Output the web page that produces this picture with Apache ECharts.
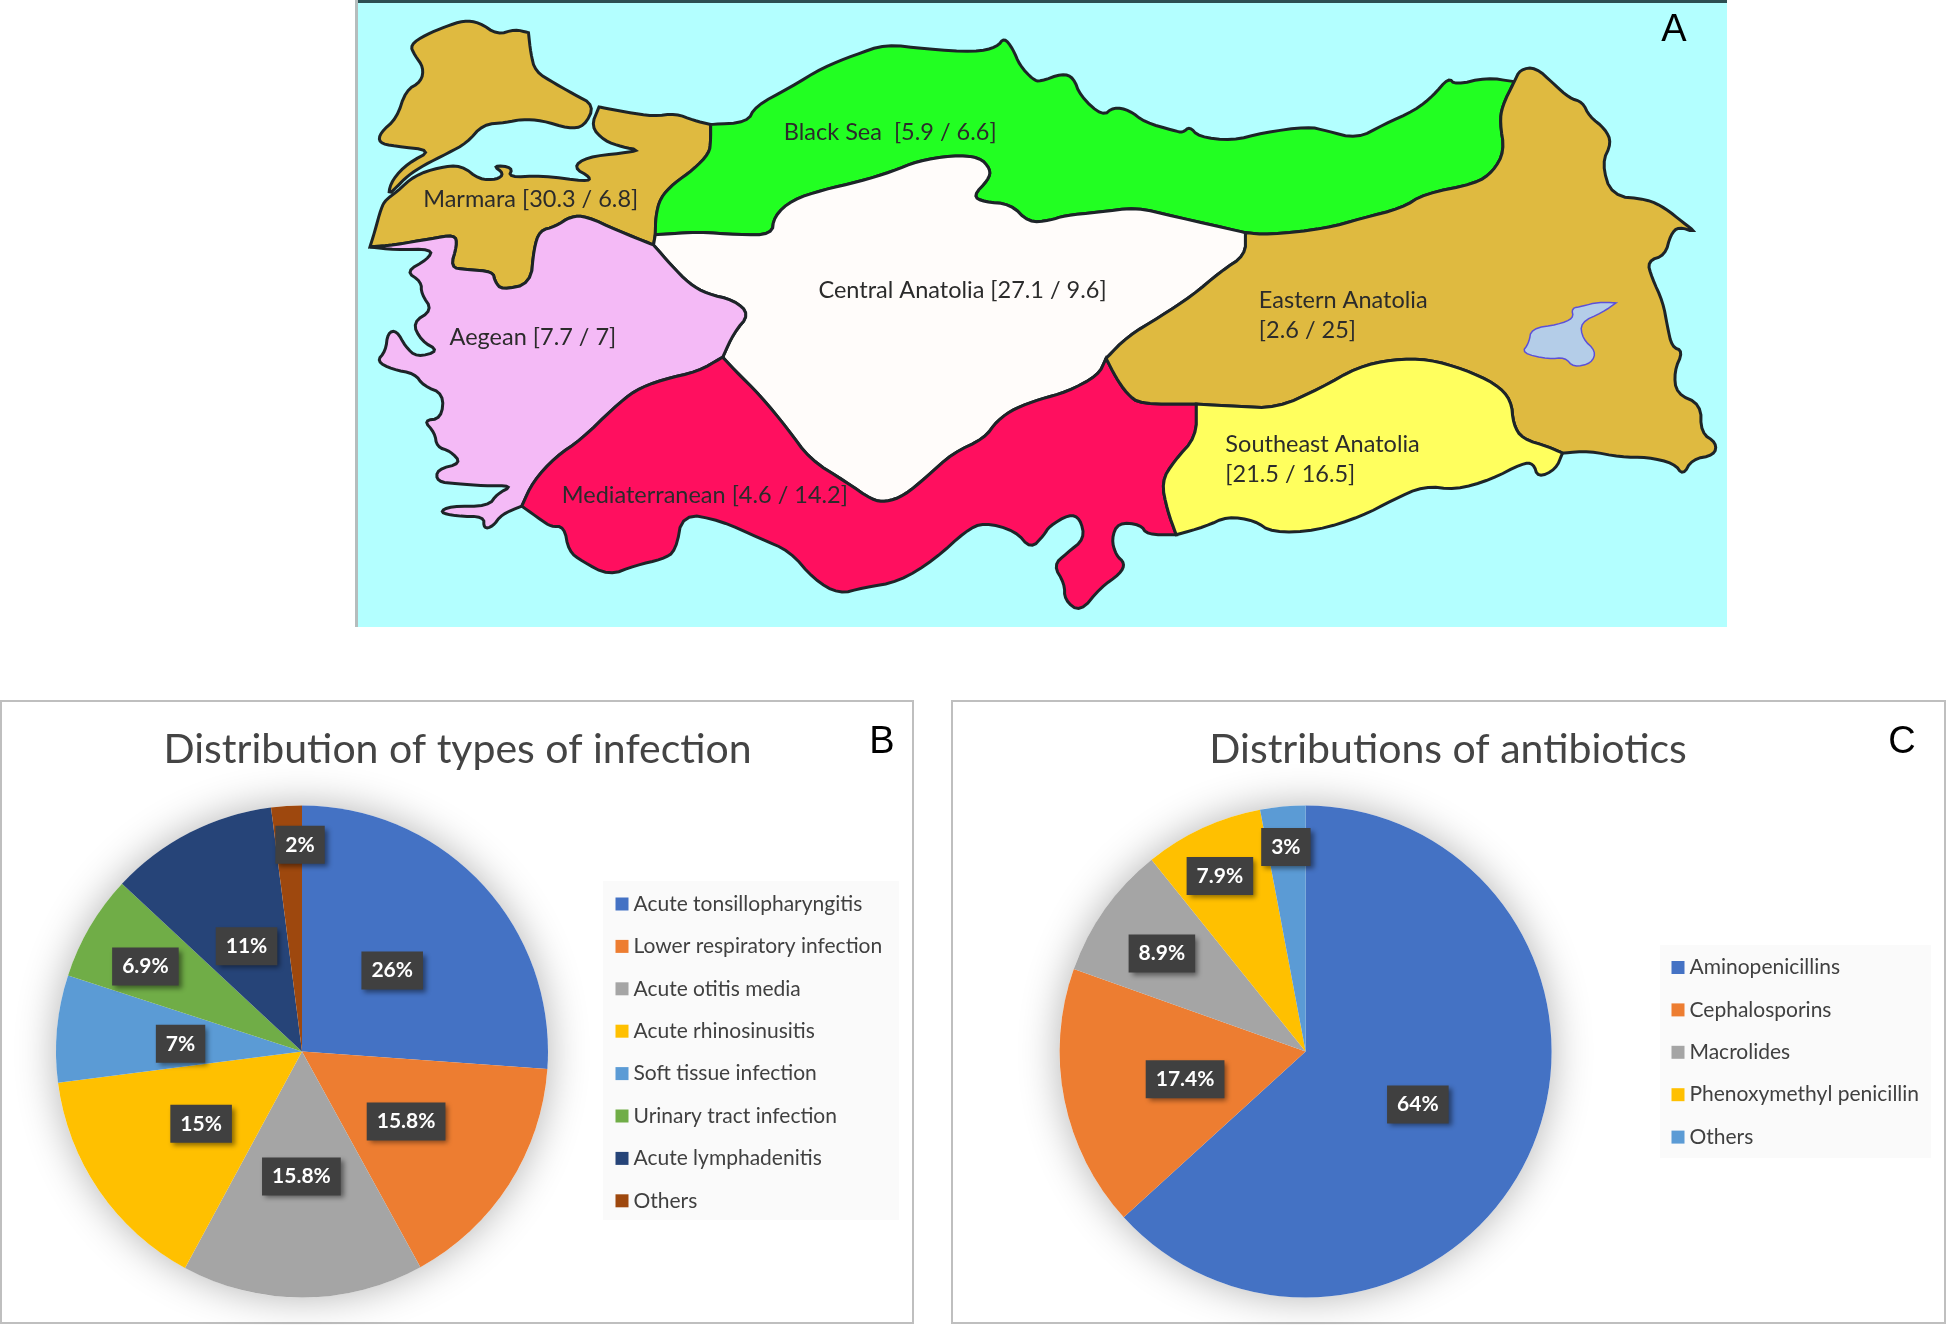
<!DOCTYPE html>
<html>
<head>
<meta charset="utf-8">
<title>Turkey infections and antibiotics</title>
<script src="https://cdn.jsdelivr.net/npm/echarts@6/dist/echarts.min.js"></script>
<style>
  html, body { margin: 0; padding: 0; background: #fff; }
  #chart { width: 1946px; height: 1325px; }
</style>
</head>
<body>
<div id="chart"></div>
<script>
  // panel A: region name, [first rate / second rate]
  var regionNames = ['Marmara', 'Black Sea', 'Central Anatolia', 'Aegean', 'Mediaterranean', 'Eastern Anatolia', 'Southeast Anatolia']
  var regionFirst = ['30.3', '5.9', '27.1', '7.7', '4.6', '2.6', '21.5']
  var regionSecond = ['6.8', '6.6', '9.6', '7', '14.2', '25', '16.5']

  // panel B
  var infectionTypes = ['Acute tonsillopharyngitis', 'Lower respiratory infection', 'Acute otitis media', 'Acute rhinosinusitis', 'Soft tissue infection', 'Urinary tract infection', 'Acute lymphadenitis', 'Others']
  var infectionShares = [26, 15.8, 15.8, 15, 7, 6.9, 11, 2]

  // panel C
  var antibioticTypes = ['Aminopenicillins', 'Cephalosporins', 'Macrolides', 'Phenoxymethyl penicillin', 'Others']
  var antibioticShares = [64, 17.4, 8.9, 7.9, 3]

  var pieColorsB = ['#4472c4', '#ed7d31', '#a5a5a5', '#ffc000', '#5b9bd5', '#70ad47', '#264478', '#9e480e']
  var pieColorsC = ['#4472c4', '#ed7d31', '#a5a5a5', '#ffc000', '#5b9bd5']
  var regionColors = ['#dfba40', '#22ff22', '#fffcfa', '#f4baf6', '#ff0f5f', '#dfba40', '#ffff5e']

  // label nudges per slice, away from the default mid-radius spot
  var labelNudgeB = [[-2, 5], [-2, 2], [-1, -1], [3, 1], [4, 4], [-48, -21], [2, 7], [6, -81]]
  var labelNudgeC = [[-3, 2], [3, 3], [-41, -25], [-33, -61], [-8, -79]]

  // map outlines. West part and east part were traced separately
  var eastShift = 1545.6
  function east(pts) {
    return pts.map(function (p) { return [p[0] + eastShift, p[1]] })
  }
  function rev(pts) {
    return pts.slice().reverse()
  }
  // cut the corners of a traced line, ends stay put so neighbours still meet
  function round(pts) {
    for (var pass = 0; pass < 2; pass++) {
      var out = [pts[0]]
      for (var i = 0; i < pts.length - 1; i++) {
        var a = pts[i], b = pts[i + 1]
        out.push([a[0] * 0.75 + b[0] * 0.25, a[1] * 0.75 + b[1] * 0.25])
        out.push([a[0] * 0.25 + b[0] * 0.75, a[1] * 0.25 + b[1] * 0.75])
      }
      out.push(pts[pts.length - 1])
      pts = out
    }
    return pts
  }

  var marmaraAegean = round([[45,605],[100,600],[180,585],[235,575],[240,600],[225,655],[260,660],[320,665],[325,690],[340,710],[405,695],[412,610],[425,565],[460,555],[495,530],[530,530],[600,565],[680,600]])
  var marmaraBlack = round([[808,305],[808,345],[805,375],[770,415],[725,450],[695,485],[685,530],[684,575]])
  var marmaraCentral = [[684,575],[680,600]]
  var aegeanCentral = round([[680,600],[720,650],[760,695],[800,720],[860,735],[895,770],[860,815],[835,875]])
  var aegeanMed = round([[835,875],[780,910],[700,930],[640,955],[590,1000],[520,1075],[460,1120],[410,1180],[385,1240]])
  var centralBlack = round([[684,575],[780,568],[870,575],[945,575],[950,530],[990,490],[1060,465],[1140,445],[1215,420],[1270,395],[1350,380],[1410,385],[1435,415],[1430,440],[1395,480],[1420,495],[1480,500],[1520,545],[1568,540]].concat(east([[55,528],[130,520],[215,508],[300,530],[460,570]])))
  var blackEastern = round(east([[1062,200],[1035,260],[1030,300],[1040,370],[1015,420],[975,450],[860,475],[810,510],[720,535],[640,560],[510,575],[460,570]]))
  var centralEastern = round(east([[460,570],[460,625],[405,665],[340,725],[270,775],[195,825],[148,878]]))
  var centralMed = round(east([[148,878],[130,920],[60,960],[0,978]]).concat([[1490,1000],[1450,1030],[1420,1075],[1350,1110],[1290,1170],[1240,1215],[1200,1230],[1170,1225],[1110,1180],[1030,1125],[980,1050],[920,970],[860,905],[835,875]]))
  var easternMed = round(east([[148,878],[170,925],[195,965],[225,990],[350,990]]))
  var easternSoutheast = round(east([[350,990],[440,995],[530,1000],[630,950],[710,900],[790,880],[870,880],[950,905],[1020,940],[1055,980],[1060,1040],[1080,1075],[1140,1095],[1170,1110]]))
  var medSoutheast = round(east([[350,990],[350,1070],[300,1130],[272,1180],[285,1250],[305,1310]]))

  var thrace = round([[400,80],[370,72],[330,85],[290,55],[255,50],[215,65],[170,85],[135,110],[145,135],[165,165],[160,200],[125,222],[105,290],[68,325],[65,350],[100,358],[185,368],[130,400],[95,440],[85,478],[105,458],[130,430],[165,405],[220,375],[262,350],[298,305],[350,300],[385,292],[430,295],[490,315],[525,310],[548,258],[500,230],[460,205],[415,175],[405,130],[400,80]])
  var marmaraNorthCoast = round([[558,262],[620,275],[680,285],[730,278],[770,295],[808,305]])
  var marmaraSeaCoast = round([[45,605],[55,570],[70,510],[80,490],[105,470],[145,430],[200,410],[250,405],[290,440],[330,440],[345,425],[320,405],[365,410],[355,435],[430,430],[530,445],[540,435],[500,410],[530,385],[610,375],[650,368],[610,360],[570,345],[540,310],[558,262]])
  var aegeanCoast = round([[385,1240],[340,1260],[320,1290],[300,1295],[300,1265],[240,1265],[200,1255],[225,1240],[310,1240],[330,1210],[365,1190],[300,1190],[240,1185],[195,1180],[195,1150],[250,1135],[225,1105],[195,1095],[190,1060],[165,1030],[205,1025],[210,965],[165,945],[145,915],[95,905],[60,885],[80,860],[85,815],[105,810],[125,850],[150,875],[200,860],[160,835],[140,790],[185,760],[160,720],[160,690],[125,665],[175,635],[185,610],[100,612],[45,605]])
  var blackCoast = round([[808,305],[890,300],[908,260],[985,215],[1060,165],[1130,135],[1200,108],[1290,120],[1400,128],[1450,115],[1465,92],[1485,120],[1500,160],[1530,195]].concat(east([[0,200],[50,180],[75,190],[90,235],[140,285],[165,262],[200,270],[235,300],[300,320],[320,325],[335,310],[355,335],[430,345],[500,325],[600,310],[640,320],[710,340],[770,305],[840,270],[880,235],[915,190],[930,208],[1000,190],[1062,200]])))
  var easternCoast = round(east([[1062,200],[1075,170],[1110,165],[1150,205],[1185,240],[1215,250],[1230,285],[1265,315],[1280,350],[1258,400],[1280,480],[1360,488],[1400,510],[1440,545],[1470,570],[1430,555],[1412,575],[1400,625],[1360,640],[1370,680],[1395,740],[1405,800],[1415,850],[1440,860],[1420,910],[1425,965],[1480,990],[1480,1060],[1515,1085],[1510,1115],[1460,1125],[1440,1165],[1420,1135],[1360,1120],[1300,1120],[1230,1105],[1170,1110]]))
  var southeastCoast = round(east([[1170,1110],[1155,1150],[1115,1170],[1105,1135],[1080,1135],[1010,1175],[930,1200],[860,1190],[790,1225],[720,1265],[620,1300],[520,1305],[480,1275],[420,1265],[370,1290],[305,1310]]))
  var medCoast = round(east([[305,1310],[240,1310],[225,1285],[175,1280],[160,1320],[170,1360],[190,1380],[180,1405],[135,1440],[90,1500],[55,1470],[55,1430],[30,1385],[60,1355],[100,1320],[90,1270],[65,1260],[20,1290]]).concat([[1555,1310],[1525,1345],[1490,1300],[1420,1280],[1380,1300],[1310,1370],[1230,1425],[1150,1440],[1095,1455],[1040,1420],[985,1350],[920,1320],[830,1275],[745,1258],[730,1350],[700,1370],[640,1385],[580,1410],[520,1375],[490,1350],[480,1290],[450,1290],[430,1275],[385,1240]]))
  var lakeVan = round(east([[1290,742],[1250,740],[1215,750],[1190,755],[1195,780],[1160,795],[1100,805],[1095,840],[1078,865],[1140,880],[1175,875],[1195,900],[1235,890],[1245,860],[1215,830],[1210,790],[1260,765],[1290,742]]))

  var regionRings = {
    'Marmara': [
      thrace,
      marmaraNorthCoast.concat(marmaraBlack, marmaraCentral, rev(marmaraAegean), marmaraSeaCoast)
    ],
    'Black Sea': [blackCoast.concat(blackEastern, rev(centralBlack), rev(marmaraBlack))],
    'Central Anatolia': [centralBlack.concat(centralEastern, centralMed, rev(aegeanCentral), rev(marmaraCentral))],
    'Aegean': [marmaraAegean.concat(aegeanCentral, aegeanMed, aegeanCoast)],
    'Mediaterranean': [rev(aegeanMed).concat(rev(centralMed), easternMed, medSoutheast, medCoast)],
    'Eastern Anatolia': [easternCoast.concat(rev(easternSoutheast), rev(easternMed), rev(centralEastern), rev(blackEastern))],
    'Southeast Anatolia': [easternSoutheast.concat(southeastCoast, rev(medSoutheast))],
    'Lake Van': [lakeVan]
  }
  var labelAnchors = {
    'Marmara': [405, 488],
    'Black Sea': [1210, 325],
    'Central Anatolia': [1372, 712],
    'Aegean': [410, 827],
    'Mediaterranean': [795, 1213],
    'Eastern Anatolia': [691.6 + eastShift, 772],
    'Southeast Anatolia': [616.6 + eastShift, 1125],
    'Lake Van': [1170 + eastShift, 830]
  }

  function buildGeo() {
    var features = []
    for (var name in regionRings) {
      features.push({
        type: 'Feature',
        properties: {name: name, cp: [labelAnchors[name][0], -labelAnchors[name][1]]},
        geometry: {
          type: 'MultiPolygon',
          coordinates: regionRings[name].map(function (ring) {
            return [ring.map(function (p) { return [p[0], -p[1]] })]
          })
        }
      })
    }
    return {type: 'FeatureCollection', features: features}
  }
  echarts.registerMap('turkey', buildGeo())

  function regionLabel(i) {
    var name = regionNames[i]
    var vals = '[' + regionFirst[i] + ' / ' + regionSecond[i] + ']'
    if (name === 'Black Sea') return name + '  ' + vals
    if (name === 'Eastern Anatolia' || name === 'Southeast Anatolia') {
      return '{left|' + name + '}\n{left|' + vals + '}'
    }
    return name + ' ' + vals
  }

  var mapData = regionNames.map(function (name, i) {
    return {
      name: name,
      value: parseFloat(regionFirst[i]),
      itemStyle: {areaColor: regionColors[i]},
      label: {show: true, formatter: regionLabel(i)}
    }
  })
  mapData.push({
    name: 'Lake Van',
    itemStyle: {areaColor: '#b4cde8', borderColor: '#5c50d8', borderWidth: 1.5},
    label: {show: false}
  })

  function pieData(names, values, colors) {
    return names.map(function (name, i) {
      return {name: name, value: values[i], itemStyle: {color: colors[i]}}
    })
  }

  function pieSeries(cx, data, nudge) {
    return {
      type: 'pie',
      center: [cx, 1051.5],
      radius: 246,
      startAngle: 90,
      data: data,
      avoidLabelOverlap: false,
      silent: true,
      z: 3,
      labelLine: {show: false},
      label: {
        show: true,
        position: 'inside',
        formatter: '{c}%',
        color: '#fff',
        fontFamily: 'Lato',
        fontWeight: 'bold',
        fontSize: 21,
        lineHeight: 24,
        backgroundColor: '#404040',
        padding: [7, 10],
        shadowColor: 'rgba(0,0,0,0.45)',
        shadowBlur: 5,
        shadowOffsetX: 3,
        shadowOffsetY: 3
      },
      labelLayout: function (params) {
        var n = nudge[params.dataIndex]
        return {dx: n[0], dy: n[1]}
      }
    }
  }

  // soft round shadow under each pie
  function pieShadow(cx) {
    return {
      type: 'pie',
      center: [cx, 1051.5],
      radius: 246,
      silent: true,
      z: 2,
      label: {show: false},
      labelLine: {show: false},
      data: [{value: 1, name: 'shadow', itemStyle: {color: '#fff', shadowBlur: 40, shadowColor: 'rgba(0,0,0,0.3)'}}]
    }
  }

  function legendOf(names, left, top, colors) {
    return {
      orient: 'vertical',
      left: left,
      top: top,
      padding: 0,
      icon: 'rect',
      itemWidth: 13,
      itemHeight: 13,
      itemGap: 18.4,
      selectedMode: false,
      textStyle: {fontFamily: 'Lato', fontSize: 21, lineHeight: 24, color: '#404040'},
      data: names.map(function (name, i) {
        return {name: name, itemStyle: {color: colors[i]}}
      })
    }
  }

  function panelTitle(text, x, y, size, family, color) {
    return {
      text: text,
      left: x,
      top: y,
      padding: 0,
      textAlign: 'center',
      textVerticalAlign: 'middle',
      textStyle: {fontFamily: family, fontSize: size, fontWeight: 'normal', color: color}
    }
  }

  var option = {
    animation: false,
    backgroundColor: '#fff',
    graphic: [
      {type: 'rect', shape: {x: 357, y: 0, width: 1370, height: 627}, style: {fill: '#b3ffff'}},
      {type: 'rect', shape: {x: 357, y: 0, width: 1370, height: 3}, style: {fill: '#2c4f52'}},
      {type: 'rect', shape: {x: 355, y: 0, width: 3, height: 627}, style: {fill: '#b5bdbd'}},
      {type: 'rect', shape: {x: 1, y: 701, width: 912, height: 622}, style: {fill: '#fff', stroke: '#bfbfbf', lineWidth: 2}},
      {type: 'rect', shape: {x: 952, y: 701, width: 993, height: 622}, style: {fill: '#fff', stroke: '#bfbfbf', lineWidth: 2}},
      {type: 'rect', shape: {x: 603, y: 881, width: 296, height: 339}, style: {fill: '#fafafa'}},
      {type: 'rect', shape: {x: 1660, y: 945, width: 271, height: 213}, style: {fill: '#fafafa'}}
    ],
    title: [
      panelTitle('Distribution of types of infection', 457.6, 750, 41, 'Lato', '#444'),
      panelTitle('Distributions of antibiotics', 1448, 750, 41, 'Lato', '#444'),
      panelTitle('A', 1674, 31, 38, 'Liberation Sans', '#000'),
      panelTitle('B', 882, 743, 38, 'Liberation Sans', '#000'),
      panelTitle('C', 1902, 743, 38, 'Liberation Sans', '#000')
    ],
    legend: [
      legendOf(infectionTypes, 615.5, 892, pieColorsB),
      legendOf(antibioticTypes, 1671.5, 955.5, pieColorsC)
    ],
    series: [
      {
        type: 'map',
        map: 'turkey',
        left: 357,
        top: 0,
        width: 1370,
        height: 627,
        boundingCoords: [[16, 0], [3084, -1536]],
        aspectScale: 1.094,
        roam: false,
        silent: true,
        selectedMode: false,
        showLegendSymbol: false,
        itemStyle: {borderColor: '#1d2428', borderWidth: 3},
        label: {
          fontFamily: 'Lato',
          fontSize: 23.5,
          lineHeight: 30,
          color: '#2b2b2b',
          rich: {
            left: {width: 180, align: 'left', fontFamily: 'Lato', fontSize: 23.5, lineHeight: 30, color: '#2b2b2b'}
          }
        },
        data: mapData
      },
      pieShadow(302),
      pieSeries(302, pieData(infectionTypes, infectionShares, pieColorsB), labelNudgeB),
      pieShadow(1305.6),
      pieSeries(1305.6, pieData(antibioticTypes, antibioticShares, pieColorsC), labelNudgeC)
    ]
  }

  var chart = echarts.init(document.getElementById('chart'))
  chart.setOption(option)
</script>
</body>
</html>
